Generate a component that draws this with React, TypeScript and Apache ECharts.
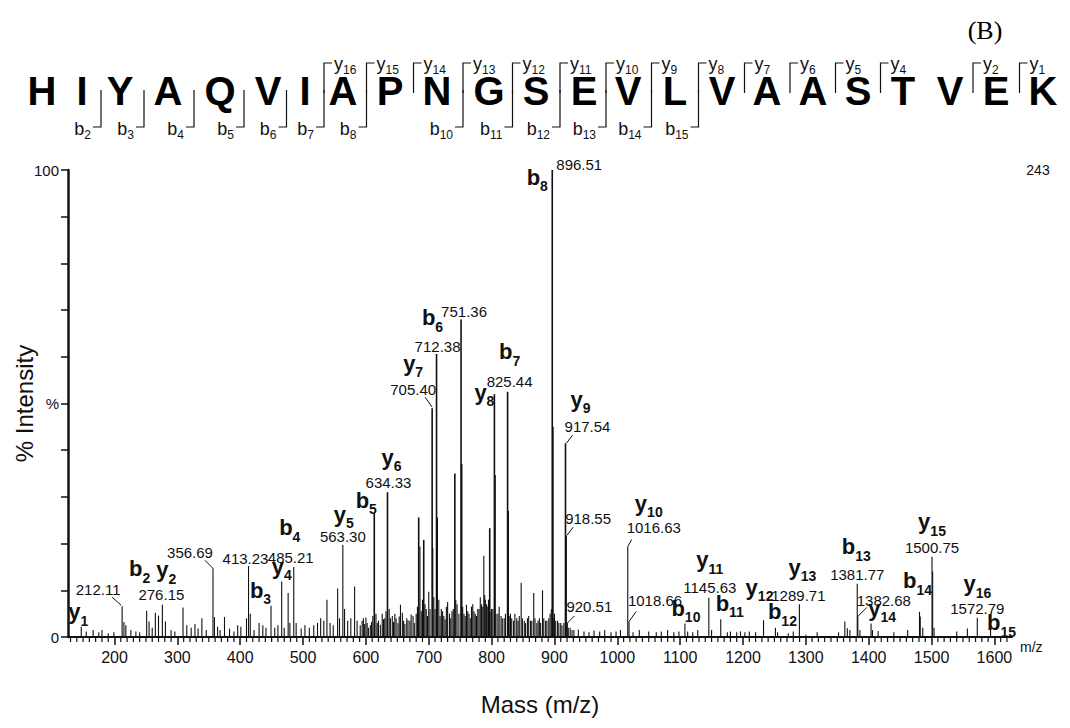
import React, { useEffect, useRef } from 'react';
import * as echarts from 'echarts';

// ---------------- DATA ----------------
const sequence = 'HIYAQVIAPNGSEVLVAASTVEK';
const bIons = [2, 3, 4, 5, 6, 7, 8, 10, 11, 12, 13, 14, 15];
const yIons = [16, 15, 14, 13, 12, 11, 10, 9, 8, 7, 6, 5, 4, 2, 1];

const xTickValues = [200, 300, 400, 500, 600, 700, 800, 900, 1000, 1100, 1200, 1300, 1400, 1500, 1600];
const yTickLabels: Record<number, string> = { 0: '0', 50: '%', 100: '100' };
const basePeakCount = '243';
const panelTag = '(B)';

// prominent / annotated peaks [m/z, % intensity]
const majorPeaks: [number, number][] = [
  [147.11, 2.2], [212.11, 6.6], [251.15, 5.6], [276.15, 6.9], [356.69, 14.7], [413.23, 15.2],
  [466.0, 11.9], [485.21, 15.0], [563.3, 19.7], [613.31, 26.5], [634.33, 31.0], [705.4, 49.0],
  [712.38, 60.6], [751.36, 68.0], [804.45, 52.0], [825.44, 52.5], [896.51, 100], [917.54, 41.5],
  [918.55, 21.8], [920.51, 3.0], [1016.63, 19.4], [1018.66, 3.3], [1107.6, 2.9], [1145.63, 8.4],
  [1164.6, 3.8], [1232.66, 3.6], [1251.6, 2.0], [1289.71, 7.0], [1381.77, 11.4], [1382.68, 4.4],
  [1403.75, 2.9], [1480.84, 5.4], [1500.75, 17.2], [1572.79, 4.1], [1593.9, 1.8],
];

// other (unlabelled) peaks [m/z, % intensity]
const otherPeaks: [number, number][] = [
  [155, 1.2], [166, 1.5], [175, 1.0], [180, 1.5], [190, 0.8], [199, 1.0], [215, 3.2], [218, 2.5], [226, 1.5],
  [234, 1.2], [240, 1.0], [255, 3.3], [260, 2.0], [265, 5.2], [270, 4.6], [281, 3.3], [290, 1.5], [296, 1.2],
  [309, 6.3], [315, 2.5], [322, 2.0], [328, 2.8], [333, 1.8], [339, 4.0], [346, 1.5], [359, 4.3], [364, 2.2],
  [368, 1.5], [375, 4.3], [383, 1.8], [390, 1.2], [396, 2.5], [401, 2.2], [410, 4.0], [416, 5.0], [422, 1.5],
  [430, 3.0], [436, 2.5], [441, 2.0], [449, 6.7], [455, 2.0], [460, 2.5], [470, 2.0], [476.27, 9.4], [479, 3.0],
  [489, 3.0], [497, 1.8], [503, 2.5], [510, 2.0], [517, 2.5], [523, 3.0], [528, 4.0], [533, 3.5], [538, 8.0],
  [543, 3.0], [548, 2.5], [555, 10.4], [558, 4.0], [566, 6.0], [571, 3.5], [576, 4.0], [582, 10.8], [586, 3.5],
  [591, 2.5], [594, 3.5], [596, 4.0], [598, 2.8], [600, 4.2], [602, 3.0], [604, 2.0], [607, 2.5], [609, 3.2],
  [611, 4.5], [616, 5.0], [618, 3.0], [620, 3.5], [623, 2.6], [626, 5.0], [628, 3.8], [630, 4.0], [632, 5.5],
  [637, 6.0], [639, 4.0], [642, 4.5], [644, 3.2], [646, 5.0], [648, 4.0], [651, 3.0], [653, 4.4], [655, 6.9],
  [658, 5.2], [660, 3.5], [662, 2.8], [665, 4.0], [667, 3.6], [670, 3.5], [672, 4.8], [675, 4.5], [677, 3.0],
  [680, 5.0], [682, 6.5], [684, 25.6], [686, 19.4], [688, 5.5], [690, 8.0], [692, 20.8], [694, 7.0], [696, 6.0],
  [698, 4.5], [700, 9.7], [702, 6.0], [706.4, 19.0], [708, 8.5], [710, 6.0], [713.4, 25.6], [716, 8.0], [718, 4.5],
  [720, 6.0], [722, 5.5], [724, 4.5], [726, 3.8], [728, 6.5], [730, 7.5], [733, 5.0], [735, 4.0], [737, 5.5],
  [739, 6.0], [741.5, 35.0], [743, 8.0], [745, 7.0], [748, 5.0], [752.4, 37.0], [754, 6.5], [756, 5.0], [758, 4.5],
  [760, 6.9], [762, 5.5], [764, 5.0], [766, 4.0], [768, 6.5], [770, 7.0], [772, 5.5], [774, 5.0], [776, 4.5],
  [778, 6.0], [780, 6.0], [782, 8.5], [784, 7.0], [786, 6.5], [787.6, 17.4], [789, 9.0], [790, 8.0], [792, 7.0],
  [793, 6.5], [795, 8.0], [797, 23.3], [799, 5.5], [800, 6.0], [802, 6.0], [805.45, 34.7], [807, 5.0], [810, 5.0],
  [812, 6.5], [815, 4.5], [817, 4.0], [820, 4.0], [822, 5.0], [826.44, 27.0], [828, 4.5], [830, 5.0], [832, 4.0],
  [835, 3.5], [837, 5.0], [840, 4.0], [842, 3.5], [844, 4.5], [847, 11.6], [849, 4.0], [852, 3.5], [854, 3.0],
  [857, 4.0], [859, 4.5], [862, 3.5], [864, 3.5], [867, 9.4], [869, 4.0], [872, 3.0], [874, 3.5], [876, 4.0],
  [878, 3.0], [881, 10.0], [883, 4.0], [886, 3.5], [888, 3.5], [891, 4.0], [893, 5.0], [895, 6.0], [897.51, 45.0],
  [899, 4.0], [900, 5.0], [902, 3.5], [905, 3.5], [907, 3.0], [910, 3.0], [912, 2.5], [915, 3.0], [922, 2.0],
  [925, 2.0], [928, 1.5], [931, 1.5], [938, 1.6], [947, 1.2], [955, 1.0], [963, 1.4], [972, 1.2], [980, 1.5],
  [990, 1.0], [998, 1.2], [1005, 1.5], [1025, 1.0], [1035, 1.5], [1050, 1.2], [1062, 1.0], [1070, 1.2], [1080, 1.5],
  [1090, 1.0], [1098, 1.2], [1112, 1.2], [1120, 1.0], [1128, 1.5], [1150, 1.5], [1175, 1.0], [1180, 1.2], [1190, 1.0],
  [1196, 1.2], [1203, 1.0], [1210, 1.2], [1220, 1.0], [1255, 1.0], [1272, 0.8], [1280, 1.2], [1300, 0.5], [1318, 1.0],
  [1352, 1.0], [1362, 3.3], [1366, 1.9], [1370, 1.5], [1386, 1.5], [1406, 1.5], [1415, 1.3], [1440, 1.0], [1462, 1.5],
  [1482, 4.4], [1486, 2.0], [1501.75, 14.0], [1504, 2.0], [1540, 1.2], [1557, 1.8],
];

// peaks annotated with their m/z value
const mzAnnotations = [
  212.11, 276.15, 356.69, 413.23, 485.21, 563.3, 634.33, 705.4, 712.38, 751.36, 825.44, 896.51,
  917.54, 918.55, 920.51, 1016.63, 1018.66, 1145.63, 1289.71, 1381.77, 1382.68, 1500.75, 1572.79,
];

// fragment ion annotations: [type, index, peak m/z]
const ionAnnotations: [string, number, number][] = [
  ['y', 1, 147.11], ['b', 2, 251.15], ['y', 2, 276.15], ['b', 3, 413.23], ['y', 4, 466.0], ['b', 4, 485.21],
  ['y', 5, 563.3], ['b', 5, 613.31], ['y', 6, 634.33], ['y', 7, 705.4], ['b', 6, 712.38], ['b', 7, 825.44],
  ['y', 8, 804.45], ['b', 8, 896.51], ['y', 9, 917.54], ['y', 10, 1016.63], ['b', 10, 1107.6], ['y', 11, 1145.63],
  ['b', 11, 1164.6], ['y', 12, 1232.66], ['b', 12, 1251.6], ['y', 13, 1289.71], ['b', 13, 1381.77], ['y', 14, 1403.75],
  ['b', 14, 1480.84], ['y', 15, 1500.75], ['y', 16, 1572.79], ['b', 15, 1593.9],
];

// ---------------- LAYOUT ----------------
const X_MIN = 126;
const X_MAX = 1628;
const FONT = '"Liberation Sans", Arial, Helvetica, sans-serif';
const INK = '#111';

const LETTER_X = [42, 82, 120, 168, 220, 268, 305, 343, 390, 437, 489, 536, 584, 628, 675, 722, 767, 813, 858, 903, 950, 996, 1043];
const SEQ_Y = 91;

// offsets (px) of the m/z text centre from the peak top, and optional leader [x1,y1,x2,y2]
const MZ_LABEL_LAYOUT: [number, number, number[] | null][] = [
  [-24, -17, [-10, -9, -1, -1]],
  [-1, -10, null],
  [-23, -16, [-8, -8, 0, 0]],
  [-3, -8, null],
  [-3, -9, null],
  [0, -9, null],
  [1, -10, null],
  [-19, -19, [-7, -11, 0, -1]],
  [1, -7, null],
  [3, -8, null],
  [2, -10, null],
  [27, -6, null],
  [22, -17, [7, -8, 1, 0]],
  [22, -17, [7, -8, 1, 0]],
  [22, -16, [7, -7, 0, 0]],
  [26, -19, [4, -7, 0, 0]],
  [26, -21, [7, -10, 0, 0]],
  [1, -10, null],
  [-1, -9, null],
  [0, -9, null],
  [26, -16, [9, -9, 0, 0]],
  [0, -9, null],
  [0, -9, null],
];

const ION_LABEL_LAYOUT: [number, number][] = [
  [-3, -10], [-7, -37], [4, -30], [12, 29], [0, -10], [-4, -34],
  [1, -26], [-8, -8], [4, -30], [-19, -40], [-4, -31], [2, -35],
  [-10, 3], [-15, 12], [15, -39], [21, -38], [1, -10], [1, -33],
  [9, -11], [-4, -28], [7, -11], [3, -32], [-1, -32], [11, -10],
  [-2, -26], [0, -30], [0, -29], [11, -1],
];

const allPeaks = [...majorPeaks, ...otherPeaks];
const intensityOf = (mz: number) => {
  const f = majorPeaks.find((p) => Math.abs(p[0] - mz) < 0.001);
  return f ? f[1] : 0;
};

const minorTickValues: number[] = [];
for (let v = 130; v <= 1620; v += 10) if (v % 100 !== 0) minorTickValues.push(v);

const ionRich = {
  m: { fontSize: 22, fontWeight: 'bold', fontFamily: FONT, fill: INK, color: INK, verticalAlign: 'bottom', lineHeight: 22, padding: [0, 0, 5, 0] },
  s: { fontSize: 14, fontWeight: 'bold', fontFamily: FONT, fill: INK, color: INK, verticalAlign: 'bottom', lineHeight: 14 },
};
const seqRich = {
  m: { fontSize: 18, fontFamily: FONT, fill: INK, color: INK, verticalAlign: 'bottom', lineHeight: 18, padding: [0, 0, 3, 0] },
  s: { fontSize: 12, fontFamily: FONT, fill: INK, color: INK, verticalAlign: 'bottom', lineHeight: 12 },
};

function buildSequenceGraphics() {
  const els: any[] = [];
  sequence.split('').forEach((ch, i) => {
    els.push({
      type: 'text', x: LETTER_X[i], y: SEQ_Y, silent: true,
      style: { text: ch, font: `bold 40px ${FONT}`, lineHeight: 30, fill: '#000', align: 'center', verticalAlign: 'middle', textAlign: 'center', textVerticalAlign: 'middle' },
    });
  });
  const cut = (k: number) => (LETTER_X[k - 1] + LETTER_X[k]) / 2;
  yIons.forEach((n) => {
    const c = cut(sequence.length - n);
    els.push({ type: 'polyline', silent: true, shape: { points: [[c, 93], [c, 63], [c + 8, 63]] }, style: { stroke: INK, lineWidth: 1.2, fill: null } });
    els.push({
      type: 'text', x: c + 10, y: 76, silent: true,
      style: { text: `{m|y}{s|${n}}`, rich: seqRich, align: 'left', verticalAlign: 'bottom', textAlign: 'left', textVerticalAlign: 'bottom' },
    });
  });
  bIons.forEach((n) => {
    const c = cut(n);
    els.push({ type: 'polyline', silent: true, shape: { points: [[c, 90], [c, 127], [c - 8, 127]] }, style: { stroke: INK, lineWidth: 1.2, fill: null } });
    els.push({
      type: 'text', x: c - 10, y: 141, silent: true,
      style: { text: `{m|b}{s|${n}}`, rich: seqRich, align: 'right', verticalAlign: 'bottom', textAlign: 'right', textVerticalAlign: 'bottom' },
    });
  });
  els.push({
    type: 'text', x: 985, y: 30, silent: true,
    style: { text: panelTag, font: '26px "Liberation Serif", "Times New Roman", serif', fill: '#000', align: 'center', verticalAlign: 'middle', textAlign: 'center', textVerticalAlign: 'middle' },
  });
  els.push({
    type: 'text', x: 1038, y: 170, silent: true,
    style: { text: basePeakCount, font: `14px ${FONT}`, fill: INK, align: 'center', verticalAlign: 'middle', textAlign: 'center', textVerticalAlign: 'middle' },
  });
  return els;
}

export default function App() {
  const ref = useRef<HTMLDivElement>(null);
  useEffect(() => {
    if (!ref.current) return;
    const chart = echarts.init(ref.current, null, { renderer: 'svg' });
    const option: any = {
      animation: false,
      backgroundColor: '#fff',
      grid: { left: 68, right: 58, top: 170, bottom: 91, containLabel: false, outerBoundsMode: 'none' },
      xAxis: [
        {
          type: 'value', min: X_MIN, max: X_MAX, position: 'bottom',
          axisLine: { show: true, onZero: false, lineStyle: { color: INK, width: 2 } },
          axisTick: { show: true, customValues: xTickValues, length: 8, lineStyle: { color: INK, width: 1.5 } },
          axisLabel: { show: true, customValues: xTickValues, formatter: (v: number) => String(v), fontSize: 16, color: INK, margin: 12, fontFamily: FONT },
          splitLine: { show: false },
          name: 'm/z', nameLocation: 'end', nameGap: 8, nameMoveOverlap: false,
          nameTextStyle: { fontSize: 14, color: INK, fontFamily: FONT, verticalAlign: 'top', padding: [3, 0, 0, 0] },
        },
        {
          type: 'value', min: X_MIN, max: X_MAX, position: 'bottom', offset: 0,
          axisLine: { show: false, onZero: false },
          axisTick: { show: false },
          axisLabel: { show: false },
          splitLine: { show: false },
          name: 'Mass (m/z)', nameLocation: 'middle', nameGap: 55, nameMoveOverlap: false,
          nameTextStyle: { fontSize: 24, color: INK, fontFamily: FONT },
        },
      ],
      yAxis: {
        type: 'value', min: 0, max: 100, interval: 10,
        axisLine: { show: true, lineStyle: { color: INK, width: 2.5 } },
        axisTick: { show: true, length: 7, lineStyle: { color: INK, width: 1.5 } },
        axisLabel: { formatter: (v: number) => yTickLabels[v] ?? '', fontSize: 15, color: INK, margin: 9, fontFamily: FONT },
        splitLine: { show: false },
        name: '% Intensity', nameLocation: 'middle', nameGap: 32, nameMoveOverlap: false,
        nameTextStyle: { fontSize: 24, color: INK, fontFamily: FONT },
      },
      series: [
        {
          type: 'custom', name: 'minorTicks', xAxisIndex: 0, yAxisIndex: 0, encode: { x: 0, y: 1 }, clip: false, silent: true,
          data: minorTickValues.map((v) => [v, 0]),
          renderItem: (_p: any, api: any) => {
            const a = api.coord([api.value(0), 0]);
            return { type: 'line', shape: { x1: a[0], y1: a[1], x2: a[0], y2: a[1] + 5 }, style: { stroke: INK, lineWidth: 1.2 } };
          },
        },
        {
          type: 'custom', name: 'peaks', xAxisIndex: 0, yAxisIndex: 0, encode: { x: 0, y: 1 },
          data: allPeaks,
          renderItem: (_p: any, api: any) => {
            const mz = api.value(0);
            const h = api.value(1);
            const a = api.coord([mz, 0]);
            const b = api.coord([mz, h]);
            return { type: 'line', shape: { x1: a[0], y1: a[1], x2: b[0], y2: b[1] }, style: { stroke: INK, lineWidth: h > 20 ? 1.6 : 1.1 } };
          },
        },
        {
          type: 'custom', name: 'mzLabels', xAxisIndex: 0, yAxisIndex: 0, encode: { x: 0, y: 1 }, clip: false,
          data: mzAnnotations.map((mz, i) => [mz, intensityOf(mz), i]),
          renderItem: (_p: any, api: any) => {
            const i = api.value(2);
            const p = api.coord([api.value(0), api.value(1)]);
            const o = MZ_LABEL_LAYOUT[i];
            const children: any[] = [{
              type: 'text', x: p[0] + o[0], y: p[1] + o[1],
              style: { text: mzAnnotations[i].toFixed(2), font: `15px ${FONT}`, fill: INK, align: 'center', verticalAlign: 'middle', textAlign: 'center', textVerticalAlign: 'middle' },
            }];
            if (o[2]) {
              const l = o[2];
              children.push({ type: 'line', shape: { x1: p[0] + l[0], y1: p[1] + l[1], x2: p[0] + l[2], y2: p[1] + l[3] }, style: { stroke: INK, lineWidth: 1 } });
            }
            return { type: 'group', children };
          },
        },
        {
          type: 'custom', name: 'ionLabels', xAxisIndex: 0, yAxisIndex: 0, encode: { x: 0, y: 1 }, clip: false,
          data: ionAnnotations.map((a, i) => [a[2], intensityOf(a[2]), i]),
          renderItem: (_p: any, api: any) => {
            const i = api.value(2);
            const p = api.coord([api.value(0), api.value(1)]);
            const o = ION_LABEL_LAYOUT[i];
            const a = ionAnnotations[i];
            return {
              type: 'text', x: p[0] + o[0], y: p[1] + o[1],
              style: { text: `{m|${a[0]}}{s|${a[1]}}`, rich: ionRich, align: 'center', verticalAlign: 'middle', textAlign: 'center', textVerticalAlign: 'middle' },
            };
          },
        },
      ],
      graphic: buildSequenceGraphics(),
    };
    chart.setOption(option);
    return () => chart.dispose();
  }, []);
  return <div ref={ref} style={{ position: 'fixed', left: 0, top: 0, width: 1070, height: 728, background: '#fff' }} />;
}
